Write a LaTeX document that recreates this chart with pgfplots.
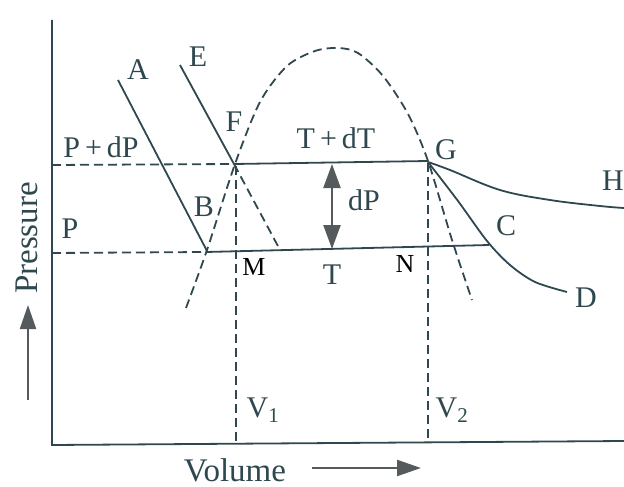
\documentclass[border=0pt]{standalone}
\usepackage{pgfplots}
\pgfplotsset{compat=1.18}
\usepackage{fontspec}
\setmainfont{Liberation Serif}
\usetikzlibrary{arrows.meta}
\definecolor{ink}{RGB}{47,72,80}
\definecolor{arr}{RGB}{85,90,92}
\begin{document}
\begin{tikzpicture}
\begin{axis}[width=624pt,height=487pt,scale only axis,
  xmin=0,xmax=624,ymin=0,ymax=487,y dir=reverse,hide axis,clip=false,
  ln/.style={ink,line width=1.8pt,mark=none},
  dsh/.style={ink,line width=1.8pt,mark=none,dash pattern=on 9pt off 5pt},
  ar/.style={arr,line width=2.2pt,mark=none}]
% axes
\addplot[ln] coordinates {(52,20) (52,445) (624,441)};
% horizontal dashed lines
\addplot[dsh] coordinates {(52,165) (234,164)};
\addplot[dsh] coordinates {(52,253) (206,252)};
% horizontal isotherm segments
\addplot[ln] coordinates {(234,164) (428,161)};
\addplot[ln] coordinates {(206,252) (489,245)};
% line A-B
\addplot[ln] coordinates {(118,80) (207,251)};
% line E-F and dashed continuation
\addplot[ln] coordinates {(180,65) (234,164)};
\addplot[dsh] coordinates {(234,164) (279,248)};
% dome
\addplot[dsh,smooth,tension=0.5] coordinates {(186,308) (207,250) (235,164) (260,102) (287,66) (315,51) (338,48) (358,53) (383,76) (408,114) (428,161) (452,240) (472,300)};
% vertical dashed V1, V2
\addplot[dsh] coordinates {(236,166) (236,444)};
\addplot[dsh] coordinates {(428,163) (428,442)};
% G-C-D curve
\addplot[ln,smooth,tension=0.5] coordinates {(428,162) (458,201) (487,241) (510,265) (535,282) (567,292)};
% G-H curve
\addplot[ln,smooth,tension=0.6] coordinates {(428,162) (450,170) (500,190) (550,200) (600,206) (624,208)};
% dP arrow
\addplot[ar,{Triangle[length=24pt,width=17pt]}-{Triangle[length=24pt,width=17pt]}] coordinates {(332,164) (332,249)};
% axis arrows
\addplot[ar,-{Triangle[length=24pt,width=16pt]}] coordinates {(28,400) (28,305)};
\addplot[ar,-{Triangle[length=24pt,width=16pt]}] coordinates {(312,468) (421,468)};
% labels
\begin{scope}[every node/.style={text=ink,font=\fontsize{30}{32}\selectfont,inner sep=0pt}]
\node at (axis cs:138,70) {A};
\node at (axis cs:198,57) {E};
\node at (axis cs:234,122) {F};
\node at (axis cs:101,147) {P\,+\,dP};
\node at (axis cs:336,138) {T\,+\,dT};
\node at (axis cs:446,150) {G};
\node[anchor=east] at (axis cs:624,181) {H};
\node at (axis cs:364,200) {dP};
\node at (axis cs:204,207) {B};
\node at (axis cs:70,229) {P};
\node at (axis cs:506,226) {C};
\node at (axis cs:332,275) {T};
\node at (axis cs:586,298) {D};
\node at (axis cs:263,410) {V\textsubscript{1}};
\node at (axis cs:452,410) {V\textsubscript{2}};
\node[font=\fontsize{33}{35}\selectfont] at (axis cs:235,470) {Volume};
\node[rotate=90,font=\fontsize{33}{35}\selectfont] at (axis cs:27,238) {Pressure};
\end{scope}
\node[text=black,font=\fontsize{26}{28}\selectfont,inner sep=0pt] at (axis cs:254,267) {M};
\node[text=black,font=\fontsize{26}{28}\selectfont,inner sep=0pt] at (axis cs:405,264) {N};
\end{axis}
\pgfresetboundingbox
\path (0,0) rectangle (624pt,487pt);
\end{tikzpicture}
\end{document}
